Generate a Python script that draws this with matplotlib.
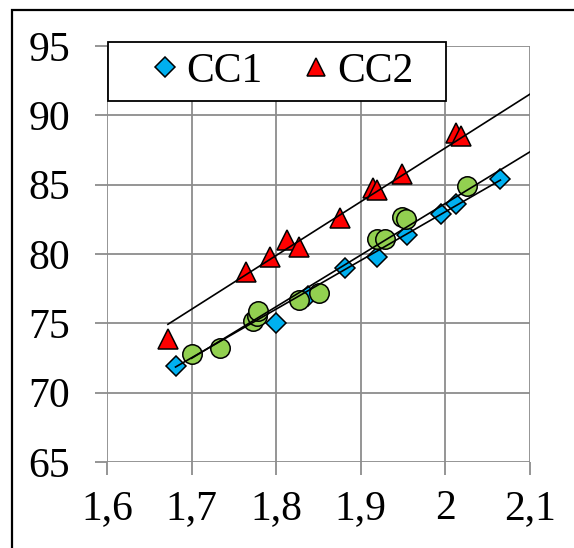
import numpy as np
import matplotlib
matplotlib.use("Agg")
import matplotlib.pyplot as plt
from matplotlib.patches import Rectangle

# ---- data ----
cc1_x = [1.681, 1.800, 1.838, 1.881, 1.919, 1.955, 1.995, 2.013, 2.065]
cc1_y = [71.9, 75.0, 77.0, 79.0, 79.8, 81.4, 82.9, 83.6, 85.4]

cc2_x = [1.672, 1.764, 1.793, 1.813, 1.827, 1.875, 1.914, 1.919, 1.949, 2.012, 2.018]
cc2_y = [73.9, 78.7, 79.8, 81.0, 80.5, 82.6, 84.75, 84.6, 85.8, 88.7, 88.5]

g_x = [1.700, 1.733, 1.772, 1.777, 1.779, 1.827, 1.851, 1.919, 1.929, 1.949, 1.954, 2.025]
g_y = [72.8, 73.2, 75.2, 75.5, 75.9, 76.7, 77.2, 81.1, 81.1, 82.7, 82.5, 84.9]

# trend lines (end points)
cc1_trend_x = [1.681, 2.065]
cc1_trend_y = [71.85, 85.33]
g_trend_x = [1.700, 2.100]
g_trend_y = [72.48, 87.37]
cc2_trend_x = [1.672, 2.100]
cc2_trend_y = [74.93, 91.53]

x_ticks = [1.6, 1.7, 1.8, 1.9, 2.0, 2.1]
x_labels = ["1,6", "1,7", "1,8", "1,9", "2", "2,1"]
y_ticks = [65, 70, 75, 80, 85, 90, 95]
y_labels = ["65", "70", "75", "80", "85", "90", "95"]

W, H = 574, 548
fig = plt.figure(figsize=(W / 100, H / 100), dpi=100)
plt.rcParams['font.family'] = ['Liberation Serif', 'DejaVu Serif']

ax = fig.add_axes([107 / W, 1 - 462 / H, (530 - 107) / W, (462 - 46) / H])
ax.set_xlim(1.6, 2.1)
ax.set_ylim(65, 95)
for s in ax.spines.values():
    s.set_visible(False)
grid_c = "#8c8c8c"
ax.grid(True, color=grid_c, linewidth=1.3, zorder=0)
ax.set_axisbelow(True)
ax.set_xticks(x_ticks)
ax.set_xticklabels(x_labels)
ax.set_yticks(y_ticks)
ax.set_yticklabels(y_labels)
ax.tick_params(axis='both', colors=grid_c, labelcolor='black', labelsize=30,
               length=9, width=1.3, direction='out')
ax.tick_params(axis='x', pad=11)
ax.tick_params(axis='y', pad=17.5)
ms_edge = 1.1

ax.plot(cc1_x, cc1_y, linestyle='none', marker='D', markersize=10.5,
        markerfacecolor='#00B0F0', markeredgecolor='black', markeredgewidth=ms_edge,
        zorder=3, label='CC1')
ax.plot(g_x, g_y, linestyle='none', marker='o', markersize=14,
        markerfacecolor='#92D050', markeredgecolor='black', markeredgewidth=ms_edge,
        zorder=4)
ax.plot(cc2_x, cc2_y, linestyle='none', marker='^', markersize=14,
        markerfacecolor='#FF0000', markeredgecolor='black', markeredgewidth=ms_edge,
        zorder=3, label='CC2')

for tx, ty in [(cc1_trend_x, cc1_trend_y), (g_trend_x, g_trend_y),
               (cc2_trend_x, cc2_trend_y)]:
    ax.plot(tx, ty, color='black', linewidth=1.2, zorder=5)

# legend box
box = Rectangle(((108 - 107) / 423, (462 - 101) / 416), (446 - 108) / 423, 59 / 416,
                transform=ax.transAxes, facecolor='white', edgecolor='black',
                linewidth=1.3, zorder=6, clip_on=False)
ax.add_patch(box)
handles = [ax.lines[0], ax.lines[2]]
leg = ax.legend(handles, ['CC1', 'CC2'], loc='center',
                bbox_to_anchor=((283 - 107) / 423, (462 - 71.5) / 416),
                ncol=2, frameon=False, fontsize=30, handlelength=0.6,
                handletextpad=0.2, columnspacing=1.0, markerscale=0.95,
                borderaxespad=0, borderpad=0)
leg.set_zorder(7)

# outer frame
fig.patches.append(Rectangle((11.5 / W, -0.1), 2, 1 - 9.5 / H + 0.1,
                             transform=fig.transFigure, fill=False,
                             edgecolor='black', linewidth=1.6))

fig.savefig('out.png', dpi=100)
